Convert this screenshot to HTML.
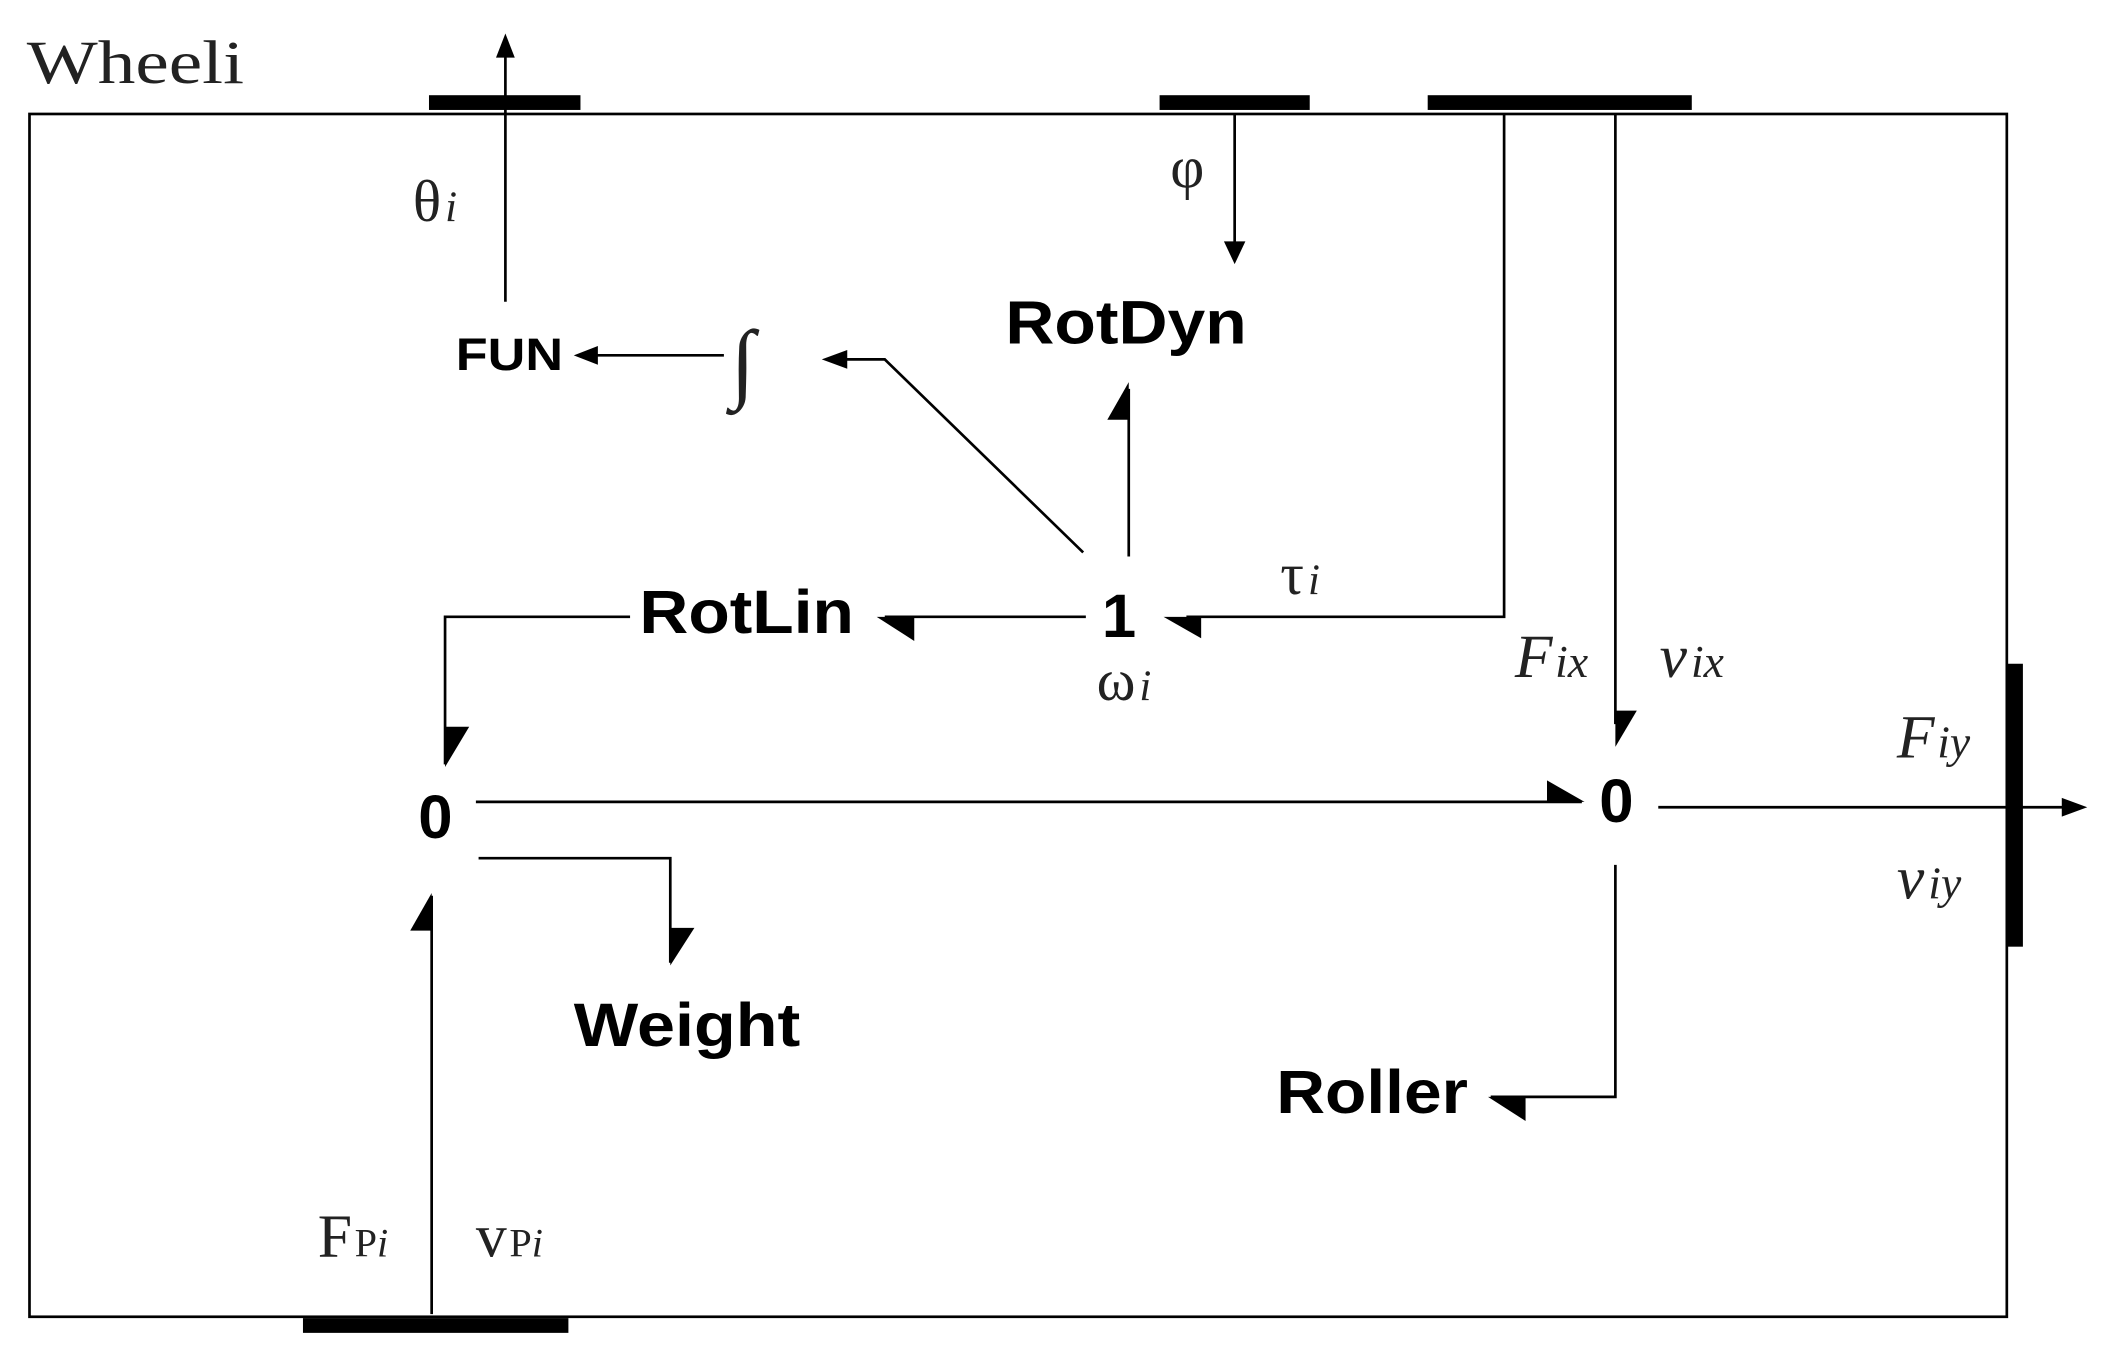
<!DOCTYPE html>
<html><head><meta charset="utf-8"><style>
html,body{margin:0;padding:0;background:#fff;}
svg{display:block;}
.s{font-family:"Liberation Serif",serif;fill:#222;}
.b{font-family:"Liberation Sans",sans-serif;font-weight:bold;fill:#000;}
</style></head><body>
<svg width="2102" height="1357" viewBox="0 0 1568 1012" preserveAspectRatio="none" xmlns="http://www.w3.org/2000/svg">
<g stroke="#000" stroke-width="2" fill="none">
<rect x="22" y="85" width="1475" height="897"/>
<line x1="377" y1="225" x2="377" y2="38"/>
<line x1="921" y1="85" x2="921" y2="182"/>
<polyline points="1122,85 1122,460 885,460"/>
<line x1="1205" y1="85" x2="1205" y2="540"/>
<line x1="540" y1="265" x2="445" y2="265"/>
<polyline points="808,412 660,268 630,268"/>
<line x1="842" y1="415" x2="842" y2="290"/>
<line x1="810" y1="460" x2="660" y2="460"/>
<polyline points="470,460 332,460 332,570"/>
<line x1="355" y1="598" x2="1180" y2="598"/>
<line x1="1237" y1="602" x2="1540" y2="602"/>
<polyline points="357,640 500,640 500,718"/>
<line x1="322" y1="980" x2="322" y2="668"/>
<polyline points="1205,645 1205,818 1112,818"/>
</g>
<g fill="#000">
<rect x="320" y="71" width="113" height="11"/>
<rect x="865" y="71" width="112" height="11"/>
<rect x="1065" y="71" width="197" height="11"/>
<rect x="226" y="983" width="198" height="11"/>
<rect x="1497" y="495" width="12" height="211"/>
<polygon points="377,25 370,43 384,43"/>
<polygon points="921,197 913,180 929,180"/>
<polygon points="428,265 446,258 446,272"/>
<polygon points="613,268 632,261 632,275"/>
<polygon points="868,460 896,460 896,476"/>
<polygon points="1205,557 1205,530 1221,530"/>
<polygon points="842,285 842,313 826,313"/>
<polygon points="654,460 682,460 682,478"/>
<polygon points="332,572 332,542 350,542"/>
<polygon points="1182,598 1154,598 1154,582"/>
<polygon points="1557,602 1538,595 1538,609"/>
<polygon points="500,720 500,692 518,692"/>
<polygon points="322,666 322,694 306,694"/>
<polygon points="1110,818 1138,818 1138,836"/>
</g>
<text class="s" x="20" y="62" font-size="46" textLength="162" lengthAdjust="spacingAndGlyphs">Wheeli</text>
<text class="s" x="308" y="165" font-size="44">θ<tspan font-style="italic" font-size="32" dx="3">i</tspan></text>
<text class="s" x="873" y="140" font-size="44">φ</text>
<text class="s" x="955" y="443" font-size="44">τ<tspan font-style="italic" font-size="32" dx="3">i</tspan></text>
<text class="s" x="818" y="522" font-size="44">ω<tspan font-style="italic" font-size="32" dx="3">i</tspan></text>
<text class="s" x="545" y="292" font-size="66">∫</text>
<text class="s" x="1130" y="505" font-size="46" font-style="italic">F<tspan font-size="34" dx="2">ix</tspan></text>
<text class="s" x="1238" y="505" font-size="46" font-style="italic">v<tspan font-size="34" dx="3">ix</tspan></text>
<text class="s" x="1415" y="565" font-size="46" font-style="italic">F<tspan font-size="34" dx="2">iy</tspan></text>
<text class="s" x="1415" y="670" font-size="46" font-style="italic">v<tspan font-size="34" dx="3">iy</tspan></text>
<text class="s" x="237" y="937" font-size="46">F<tspan font-size="30" dx="2">P<tspan font-style="italic">i</tspan></tspan></text>
<text class="s" x="355" y="937" font-size="46">v<tspan font-size="30" dx="2">P<tspan font-style="italic">i</tspan></tspan></text>
<text class="b" x="340" y="276" font-size="34" textLength="80" lengthAdjust="spacingAndGlyphs">FUN</text>
<text class="b" x="750" y="256" font-size="46" textLength="180" lengthAdjust="spacingAndGlyphs">RotDyn</text>
<text class="b" x="477" y="472" font-size="46" textLength="160" lengthAdjust="spacingAndGlyphs">RotLin</text>
<text class="b" x="822" y="475" font-size="46">1</text>
<text class="b" x="312" y="625" font-size="46">0</text>
<text class="b" x="1193" y="613" font-size="46">0</text>
<text class="b" x="428" y="780" font-size="46" textLength="169" lengthAdjust="spacingAndGlyphs">Weight</text>
<text class="b" x="952" y="830" font-size="46" textLength="143" lengthAdjust="spacingAndGlyphs">Roller</text>
</svg>
</body></html>
